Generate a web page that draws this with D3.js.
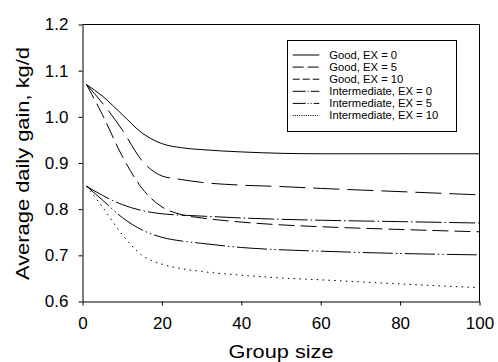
<!DOCTYPE html>
<html>
<head>
<meta charset="utf-8">
<script src="https://cdn.jsdelivr.net/npm/d3@7"></script>
<style>
  body { margin: 0; background: #fff; }
  text { font-family: "Liberation Sans", Arial, sans-serif; fill: #000; }
</style>
</head>
<body>
<div id="chart"></div>
<script>
// data
const groupSize = [1, 5, 10, 15, 20, 25, 30, 40, 50, 60, 80, 100];
const goodEx0  = [1.07, 1.045, 1.005, 0.965, 0.942, 0.933, 0.929, 0.924, 0.921, 0.920, 0.920, 0.920];
const goodEx5  = [1.07, 1.03, 0.972, 0.905, 0.872, 0.864, 0.858, 0.852, 0.849, 0.845, 0.838, 0.831];
const goodEx10 = [1.07, 1.005, 0.915, 0.845, 0.805, 0.788, 0.781, 0.772, 0.766, 0.762, 0.756, 0.751];
const intEx0   = [0.85, 0.83, 0.81, 0.797, 0.790, 0.787, 0.785, 0.781, 0.778, 0.776, 0.773, 0.770];
const intEx5   = [0.85, 0.82, 0.782, 0.755, 0.739, 0.731, 0.726, 0.717, 0.712, 0.709, 0.704, 0.701];
const intEx10  = [0.85, 0.805, 0.745, 0.700, 0.681, 0.671, 0.665, 0.657, 0.651, 0.647, 0.638, 0.630];
const seriesNames = ["Good, EX = 0", "Good, EX = 5", "Good, EX = 10",
                     "Intermediate, EX = 0", "Intermediate, EX = 5", "Intermediate, EX = 10"];
const seriesValues = [goodEx0, goodEx5, goodEx10, intEx0, intEx5, intEx10];
const xTicks = [0, 20, 40, 60, 80, 100];
const yTicks = [0.6, 0.7, 0.8, 0.9, 1.0, 1.1, 1.2];

// line styles
const plotDash = [null, "26,8", "16,6", "26,3,1.5,3", "30,3,1.5,3,1.5,3", "1.5,4.3"];
const legendDash = [null, "11,4", "7,3", "13,2,1,2", "13,2,1,2,1,2", "1,1.2"];

const W = 498, H = 362;
const svg = d3.select("#chart").append("svg")
  .attr("width", W).attr("height", H);

const x = d3.scaleLinear().domain([0, 100]).range([82.5, 479.5]);
const y = d3.scaleLinear().domain([0.6, 1.2]).range([301.5, 24.5]);

// frame (top + right)
svg.append("path")
  .attr("d", "M" + x(0) + "," + y(1.2) + "H" + x(100) + "V" + y(0.6))
  .attr("fill", "none").attr("stroke", "#000");

let xAxis = svg.append("g")
  .attr("transform", "translate(0," + y(0.6) + ")")
  .call(d3.axisBottom(x).tickValues(xTicks).tickSize(4).tickPadding(11).tickSizeOuter(0));
let yAxis = svg.append("g")
  .attr("transform", "translate(" + x(0) + ",0)")
  .call(d3.axisLeft(y).tickValues(yTicks).tickFormat(d3.format(".1f")).tickSize(4).tickPadding(10).tickSizeOuter(0));
[xAxis, yAxis].forEach(function(a) {
  a.selectAll("text").style("font-size", "17px").attr("font-family", null);
  a.select(".domain").attr("stroke", "#000");
  a.selectAll(".tick line").attr("stroke", "#000");
});

// titles
svg.append("text")
  .attr("x", 281).attr("y", 358)
  .attr("text-anchor", "middle")
  .attr("textLength", 105).attr("lengthAdjust", "spacingAndGlyphs")
  .style("font-size", "18px")
  .text("Group size");
svg.append("text")
  .attr("transform", "translate(29,163.5) rotate(-90)")
  .attr("text-anchor", "middle")
  .attr("textLength", 233).attr("lengthAdjust", "spacingAndGlyphs")
  .style("font-size", "18px")
  .text("Average daily gain, kg/d");

// curves
const line = d3.line()
  .x(function(d, i) { return x(groupSize[i]); })
  .y(function(d) { return y(d); })
  .curve(d3.curveMonotoneX);

svg.selectAll(".series")
  .data(seriesValues)
  .enter()
  .append("path")
  .attr("class", "series")
  .attr("d", line)
  .attr("fill", "none")
  .attr("stroke", "#000")
  .attr("stroke-width", 1)
  .attr("stroke-dasharray", function(d, i) { return plotDash[i]; });

// legend
let legend = svg.append("g");
legend.append("rect")
  .attr("x", 287.5).attr("y", 40.5).attr("width", 169).attr("height", 91)
  .attr("fill", "#fff").attr("stroke", "#000");
let rows = legend.selectAll(".row")
  .data(seriesNames)
  .enter()
  .append("g")
  .attr("class", "row")
  .attr("transform", function(d, i) { return "translate(0," + (55 + i * 12.1) + ")"; });
rows.append("line")
  .attr("x1", 292.7).attr("x2", 319.3)
  .attr("stroke", "#000")
  .attr("stroke-dasharray", function(d, i) { return legendDash[i]; });
rows.append("text")
  .attr("x", 329.3).attr("dy", "0.36em")
  .style("font-size", "10.5px")
  .text(function(d) { return d; })
  .each(function() {
    // stretch slightly to match the wider legend lettering
    let w = this.getComputedTextLength();
    d3.select(this).attr("textLength", w * 1.07).attr("lengthAdjust", "spacingAndGlyphs");
  });
</script>
</body>
</html>
